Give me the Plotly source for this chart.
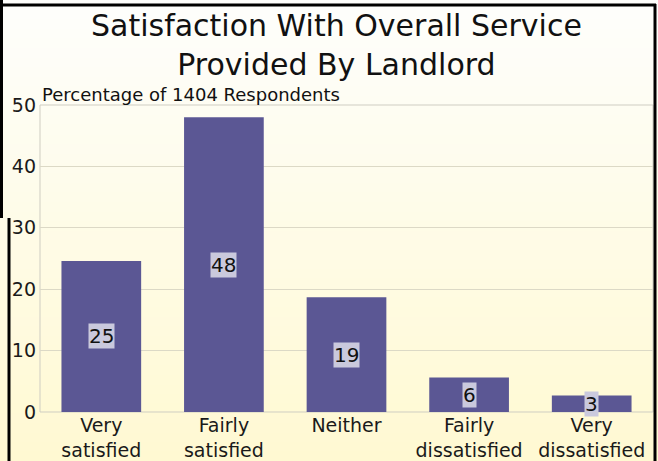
import plotly.graph_objects as go

# Survey results
categories = ["Very<br>satisfied", "Fairly<br>satisfied", "Neither",
              "Fairly<br>dissatisfied", "Very<br>dissatisfied"]
percentages = [24.6, 48.0, 18.7, 5.6, 2.7]
y_ticks = [0, 10, 20, 30, 40, 50]

W, H = 658, 461
L, R, T, B = 40, 5, 105, 49
PW, PH = W - L - R, H - T - B


def px_x(x):
    return (x - L) / PW


def px_y(y):
    return (H - B - y) / PH


fig = go.Figure()
fig.add_trace(go.Bar(
    x=categories, y=percentages,
    marker=dict(color="#5b5794", line=dict(width=0)),
    width=0.65, hoverinfo="skip",
))

shapes = []
# vertical white-to-cream background
n = 48
top_c = (254, 254, 252)
bot_c = (255, 249, 210)
for i in range(n):
    t = i / (n - 1)
    c = tuple(round(a + (b - a) * t) for a, b in zip(top_c, bot_c))
    y0 = H * i / n
    y1 = H * (i + 1) / n + 1
    shapes.append(dict(type="rect", xref="paper", yref="paper", layer="below",
                       x0=px_x(0), x1=px_x(W), y0=px_y(y1), y1=px_y(y0),
                       line=dict(width=0), fillcolor=f"rgb{c}"))

# plot-area outline
shapes.append(dict(type="rect", xref="paper", yref="paper", layer="below",
                   x0=0, x1=1, y0=0, y1=1,
                   line=dict(color="#cfcdc2", width=1)))

# black frame
frame = dict(color="black", width=3)
shapes += [
    dict(type="line", xref="paper", yref="paper", x0=px_x(0), x1=px_x(656),
         y0=px_y(5), y1=px_y(5), line=frame),
    dict(type="line", xref="paper", yref="paper", x0=px_x(655), x1=px_x(655),
         y0=px_y(4), y1=px_y(H), line=frame),
    dict(type="line", xref="paper", yref="paper", x0=px_x(9), x1=px_x(9),
         y0=px_y(218), y1=px_y(H), line=frame),
    dict(type="line", xref="paper", yref="paper", x0=px_x(1.5), x1=px_x(1.5),
         y0=px_y(0), y1=px_y(218), line=frame),
]

annotations = [
    dict(text="Satisfaction With Overall Service<br>Provided By Landlord",
         xref="paper", yref="paper", x=px_x(336), y=px_y(6),
         xanchor="center", yanchor="top", align="center", showarrow=False,
         font=dict(size=30, color="#111")),
    dict(text="Percentage of 1404 Respondents", xref="paper", yref="paper",
         x=px_x(40), y=px_y(94), xanchor="left", yanchor="middle",
         showarrow=False, font=dict(size=18, color="#111")),
]
for cat, v in zip(categories, percentages):
    annotations.append(dict(
        x=cat, y=v / 2, text=f"{v:.0f}", showarrow=False,
        font=dict(size=20, color="#111"), bgcolor="#cac9dd", borderpad=0,
        xanchor="center", yanchor="middle",
    ))

fig.update_layout(
    width=W, height=H,
    margin=dict(l=L, r=R, t=T, b=B, autoexpand=False),
    paper_bgcolor="rgba(0,0,0,0)", plot_bgcolor="rgba(0,0,0,0)",
    font=dict(family="DejaVu Sans", color="#1a1a1a"),
    showlegend=False, bargap=0.35,
    xaxis=dict(showgrid=False, zeroline=False, showline=False,
               automargin=False, tickfont=dict(size=19), ticks="",
               fixedrange=True),
    yaxis=dict(range=[0, 50], tickvals=y_ticks, showgrid=True,
               gridcolor="#dcd9c6", gridwidth=1, zeroline=False,
               showline=False, automargin=False, ticks="",
               ticklabelstandoff=3, tickfont=dict(size=19)),
    shapes=shapes, annotations=annotations,
)

fig.write_html("out.html")
